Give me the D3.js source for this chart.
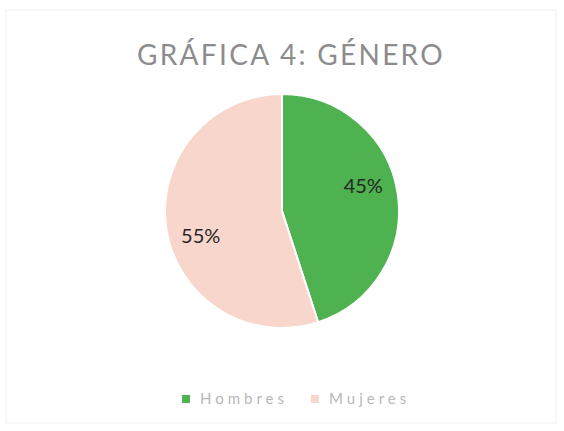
<!DOCTYPE html>
<html>
<head>
<meta charset="utf-8">
<script src="https://cdn.jsdelivr.net/npm/d3@7"></script>
<style>
  body { margin: 0; background: #fff; }
  text { font-family: Lato, "Open Sans", sans-serif; }
</style>
</head>
<body>
<div id="chart"></div>
<script>
// datos de la grafica
var categorias = ['Hombres', 'Mujeres'];
var valores = [45, 55];
var colores = ['#4db24f', '#f9d6cc'];
var titulo = 'GRÁFICA 4: GÉNERO';

var width = 564;
var height = 431;
var cx = 282, cy = 210, radius = 117;

var svg = d3.select('#chart')
  .append('svg')
  .attr('width', width)
  .attr('height', height);

// marco del grafico
svg.append('rect')
  .attr('x', 6).attr('y', 10)
  .attr('width', width - 14).attr('height', height - 18)
  .attr('fill', '#fff')
  .attr('stroke', '#f0f0f0');

svg.append('text')
  .attr('x', 291)
  .attr('y', 65)
  .attr('text-anchor', 'middle')
  .attr('font-size', 28)
  .attr('letter-spacing', 2.3)
  .attr('fill', '#8c8c8c')
  .text(titulo);

var color = d3.scaleOrdinal().domain(categorias).range(colores);

var pie = d3.pie().sort(null).value(d => d.value);
var datos = categorias.map((c, i) => ({ name: c, value: valores[i] }));

var arc = d3.arc().innerRadius(0).outerRadius(radius);
// las etiquetas quedan algo giradas respecto al centro de cada sector
var giro = -0.14;
var pieEtiquetas = d3.pie().sort(null).value(d => d.value)
  .startAngle(giro).endAngle(2 * Math.PI + giro);
var labelArc = d3.arc().innerRadius(85).outerRadius(85);

var g = svg.append('g').attr('transform', `translate(${cx},${cy + 1})`);

g.selectAll('path')
  .data(pie(datos))
  .enter()
  .append('path')
  .attr('d', arc)
  .attr('fill', d => color(d.data.name))
  .attr('stroke', '#fff')
  .attr('stroke-width', 2);

var total = d3.sum(valores);
g.selectAll('text.etiqueta')
  .data(pieEtiquetas(datos))
  .enter()
  .append('text')
  .attr('class', 'etiqueta')
  .attr('transform', d => `translate(${labelArc.centroid(d)})`)
  .attr('text-anchor', 'middle')
  .attr('dy', '0.35em')
  .attr('font-size', 20)
  .attr('fill', '#262626')
  .text(d => Math.round(d.data.value / total * 100) + '%');

// leyenda
var leyendaX = [182, 311];
var leyenda = svg.append('g').attr('transform', 'translate(0,399)');
var items = leyenda.selectAll('g')
  .data(categorias)
  .enter()
  .append('g')
  .attr('transform', (d, i) => `translate(${leyendaX[i]},0)`);

items.append('rect')
  .attr('x', 0).attr('y', -4)
  .attr('width', 8).attr('height', 8)
  .attr('fill', d => color(d));

items.append('text')
  .attr('x', 18)
  .attr('dy', '0.35em')
  .attr('font-size', 15)
  .attr('letter-spacing', 4)
  .attr('fill', '#b8b8b8')
  .text(d => d);
</script>
</body>
</html>
